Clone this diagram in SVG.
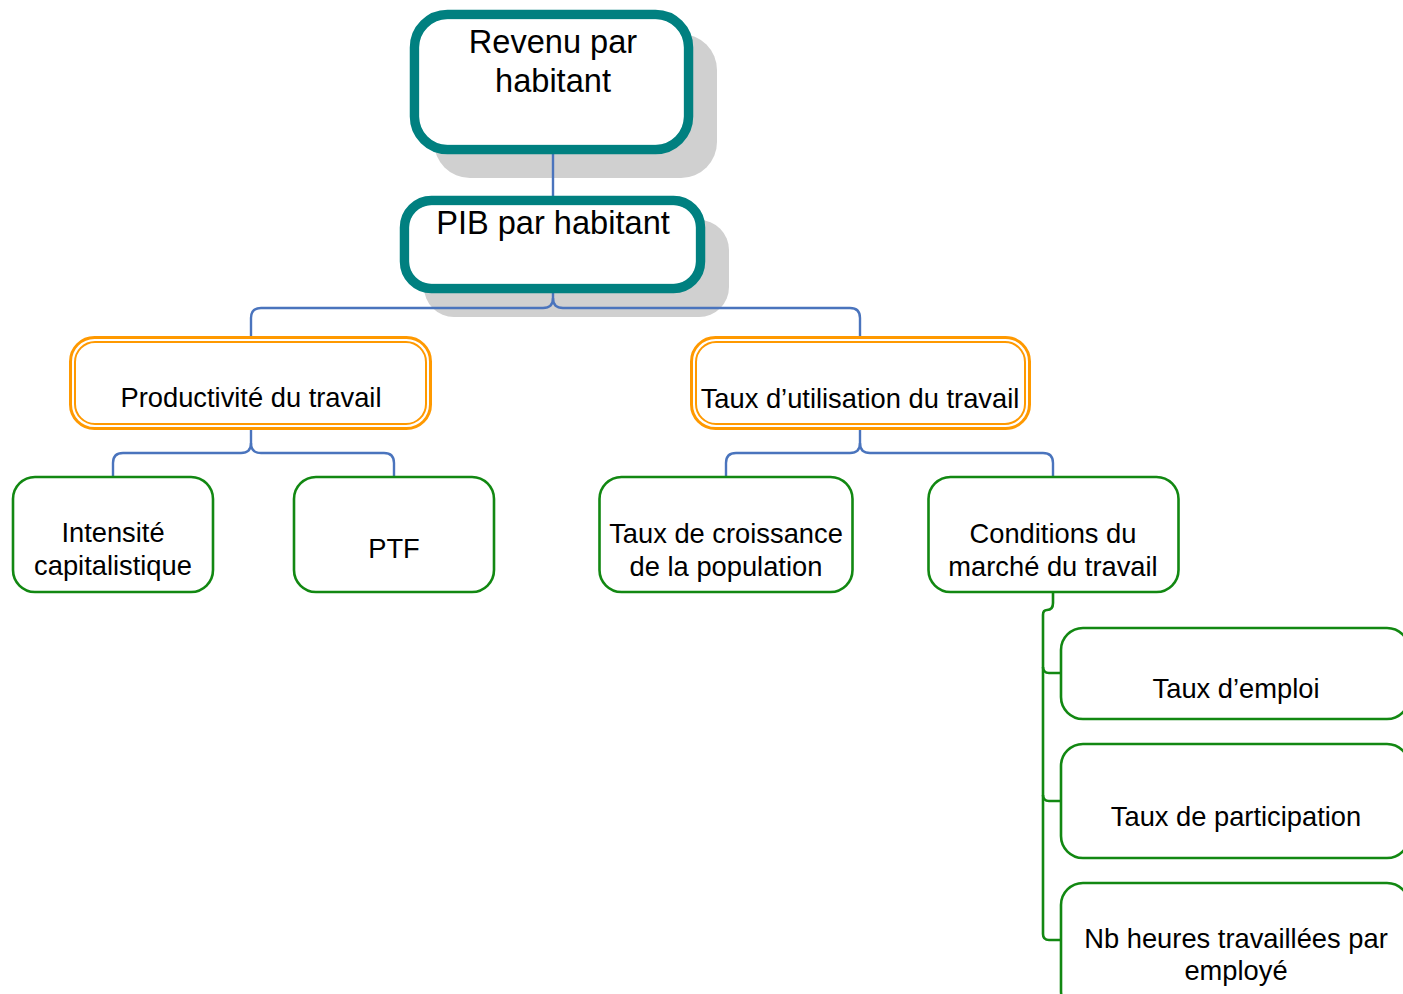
<svg xmlns="http://www.w3.org/2000/svg" width="1403" height="994" viewBox="0 0 1403 994">
<style>
.t{font-family:"Liberation Sans",Arial,sans-serif;fill:#000;text-anchor:middle}
.big{font-size:32.6px}
.sm{font-size:27.3px}
.sh{fill:#d0d0d0}
.teal{fill:#fff;stroke:#008080;stroke-width:9.5}
.tealin{fill:none;stroke:#ffffff;stroke-width:1;opacity:0.8}
.oo{fill:#fff;stroke:#ff9900;stroke-width:3}
.oi{fill:none;stroke:#ff9900;stroke-width:2}
.g{fill:#fff;stroke:#128812;stroke-width:2.6}
.cb{fill:none;stroke:#4a74bd;stroke-width:2.4}
.cg{fill:none;stroke:#128812;stroke-width:2.6}
</style>
<rect width="1403" height="994" fill="#fff"/>
<g id="shadows">
<rect class="sh" x="434" y="34" width="283" height="144" rx="36"/>
<rect class="sh" x="424" y="220" width="305" height="97" rx="30"/>
</g>
<g id="connectors">
<path class="cb" d="M553,152 V198"/>
<path class="cb" d="M553,291 V298 Q553,308 543,308 H261 Q251,308 251,318 V338"/>
<path class="cb" d="M553,298 Q553,308 563,308 H850 Q860,308 860,318 V338"/>
<path class="cb" d="M251,429 V443 Q251,453 241,453 H123 Q113,453 113,463 V477"/>
<path class="cb" d="M251,443 Q251,453 261,453 H384 Q394,453 394,463 V477"/>
<path class="cb" d="M860,429 V443 Q860,453 850,453 H736 Q726,453 726,463 V477"/>
<path class="cb" d="M860,443 Q860,453 870,453 H1043 Q1053,453 1053,463 V477"/>
<path class="cg" d="M1053,593 V603 Q1053,610 1047,610 Q1043,610 1043,615 V667 Q1043,673 1049,673 H1061"/>
<path class="cg" d="M1043,667 V795 Q1043,801 1049,801 H1061"/>
<path class="cg" d="M1043,795 V934 Q1043,940 1049,940 H1061"/>
</g>
<g id="n-revenu">
<rect class="teal" x="414.5" y="14.5" width="274" height="135" rx="33"/>
<rect class="tealin" x="420" y="20" width="263" height="124" rx="28"/>
<text class="t big" x="553" y="53">Revenu par</text>
<text class="t big" x="553" y="92">habitant</text>
</g>
<g id="n-pib">
<rect class="teal" x="404.5" y="200.5" width="296" height="88" rx="27"/>
<rect class="tealin" x="410" y="206" width="285" height="77" rx="22"/>
<text class="t big" x="553" y="234">PIB par habitant</text>
</g>
<g id="n-productivite">
<rect class="oo" x="70.5" y="337.5" width="360" height="91" rx="24"/>
<rect class="oi" x="75" y="342" width="351" height="82" rx="20"/>
<text class="t sm" x="251" y="407">Productivité du travail</text>
</g>
<g id="n-utilisation">
<rect class="oo" x="691.5" y="337.5" width="338" height="91" rx="24"/>
<rect class="oi" x="696" y="342" width="329" height="82" rx="20"/>
<text class="t sm" x="860" y="408">Taux d’utilisation du travail</text>
</g>
<g id="n-intensite">
<rect class="g" x="13" y="477" width="200" height="115" rx="22"/>
<text class="t sm" x="113" y="542">Intensité</text>
<text class="t sm" x="113" y="575">capitalistique</text>
</g>
<g id="n-ptf">
<rect class="g" x="294" y="477" width="200" height="115" rx="22"/>
<text class="t sm" x="394" y="558">PTF</text>
</g>
<g id="n-croissance">
<rect class="g" x="599.5" y="477" width="253" height="115" rx="22"/>
<text class="t sm" x="726" y="543">Taux de croissance</text>
<text class="t sm" x="726" y="576">de la population</text>
</g>
<g id="n-conditions">
<rect class="g" x="928.5" y="477" width="250" height="115" rx="22"/>
<text class="t sm" x="1053" y="543">Conditions du</text>
<text class="t sm" x="1053" y="576">marché du travail</text>
</g>
<g id="n-emploi">
<rect class="g" x="1061" y="628" width="348" height="91" rx="22"/>
<text class="t sm" x="1236" y="698">Taux d’emploi</text>
</g>
<g id="n-participation">
<rect class="g" x="1061" y="744" width="348" height="114" rx="22"/>
<text class="t sm" x="1236" y="826">Taux de participation</text>
</g>
<g id="n-heures">
<rect class="g" x="1061" y="883" width="348" height="130" rx="22"/>
<text class="t sm" x="1236" y="948">Nb heures travaillées par</text>
<text class="t sm" x="1236" y="980">employé</text>
</g>
</svg>
